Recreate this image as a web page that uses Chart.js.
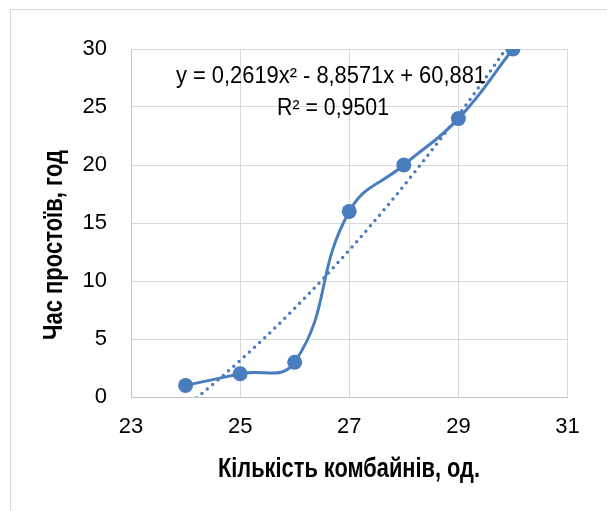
<!DOCTYPE html>
<html>
<head>
<meta charset="utf-8">
<script src="https://cdn.jsdelivr.net/npm/chart.js@4.4.1/dist/chart.umd.min.js"></script>
<style>
    html, body { margin: 0; padding: 0; background: #fff; }
    #wrap { position: relative; width: 607px; height: 511px; overflow: hidden; }
    #frame {
        position: absolute; left: 10px; top: 9px; width: 700px; height: 600px;
        border: 1px solid #d9d9d9;
    }
    #chart { position: absolute; left: 0; top: 0; }
</style>
</head>
<body>
<div id="wrap">
    <div id="frame"></div>
    <canvas id="chart" width="607" height="511"></canvas>
</div>
<script>
// data
const combines = [24, 25, 26, 27, 28, 29, 30]
const downtime = [1, 2, 3, 16, 20, 24, 30]

// trendline printed on the chart: y = 0,2619x² - 8,8571x + 60,881
const trendCoef = [0.2619, -8.8571, 60.881]
const trendLabel = "y = 0,2619x² - 8,8571x + 60,881"
const r2Label = "R² = 0,9501"

const xTitle = "Кількість комбайнів, од."
const yTitle = "Час простоїв, год"

const FAMILY = "'Liberation Sans', Arial, sans-serif"
const BLUE = "#4a7dbd"

const points = combines.map((x, i) => ({ x: x, y: downtime[i] }))

const trendPoints = []
for (let x = combines[0]; x <= combines[combines.length - 1] + 0.001; x += 0.25) {
    trendPoints.push({
        x: x,
        y: trendCoef[0] * x * x + trendCoef[1] * x + trendCoef[2],
    })
}

// Arial Narrow look: plain Arial squeezed to a given width
function narrowText(ctx, text, x, y, width, rotate) {
    const w = ctx.measureText(text).width
    ctx.save()
    ctx.translate(x, y)
    if (rotate) ctx.rotate(-Math.PI / 2)
    ctx.scale(width / w, 1)
    ctx.fillText(text, 0, 0)
    ctx.restore()
}

const textPlugin = {
    id: "chartTexts",
    afterDraw(chart) {
        const ctx = chart.ctx
        ctx.save()
        ctx.fillStyle = "#000"
        ctx.textAlign = "center"
        ctx.textBaseline = "alphabetic"

        ctx.font = "23px " + FAMILY
        narrowText(ctx, trendLabel, 331, 83, 310)
        narrowText(ctx, r2Label, 333, 115, 112)

        ctx.font = "bold 27px " + FAMILY
        narrowText(ctx, xTitle, 349, 477, 262)
        narrowText(ctx, yTitle, 62, 245, 190, true)
        ctx.restore()
    },
}

new Chart(document.getElementById("chart").getContext("2d"), {
    type: "scatter",
    plugins: [textPlugin],
    data: {
        datasets: [
            {
                label: "trend",
                data: trendPoints,
                showLine: true,
                borderColor: BLUE,
                borderWidth: 3.5,
                borderDash: [0, 7],
                borderCapStyle: "round",
                pointRadius: 0,
                tension: 0,
            },
            {
                label: "data",
                data: points,
                showLine: true,
                borderColor: BLUE,
                backgroundColor: BLUE,
                borderWidth: 3,
                pointRadius: 7.5,
                pointBorderWidth: 0,
                tension: 0.45,
            },
        ],
    },
    options: {
        responsive: false,
        animation: false,
        layout: {
            padding: { top: 49, right: 39.5, left: 0, bottom: 0 },
        },
        plugins: {
            legend: { display: false },
            tooltip: { enabled: false },
        },
        scales: {
            x: {
                type: "linear",
                min: 23,
                max: 31,
                afterFit: (scale) => { scale.height = 114 },
                ticks: {
                    stepSize: 2,
                    color: "#000",
                    padding: 17,
                    font: { family: FAMILY, size: 22 },
                },
                grid: { color: "#d9d9d9", drawTicks: false },
                border: { color: "#c4c4c4" },
            },
            y: {
                min: 0,
                max: 30,
                afterFit: (scale) => { scale.width = 131 },
                ticks: {
                    stepSize: 5,
                    color: "#000",
                    padding: 24,
                    font: { family: FAMILY, size: 22 },
                },
                grid: { color: "#d9d9d9", drawTicks: false },
                border: { color: "#c4c4c4" },
            },
        },
    },
})
</script>
</body>
</html>
